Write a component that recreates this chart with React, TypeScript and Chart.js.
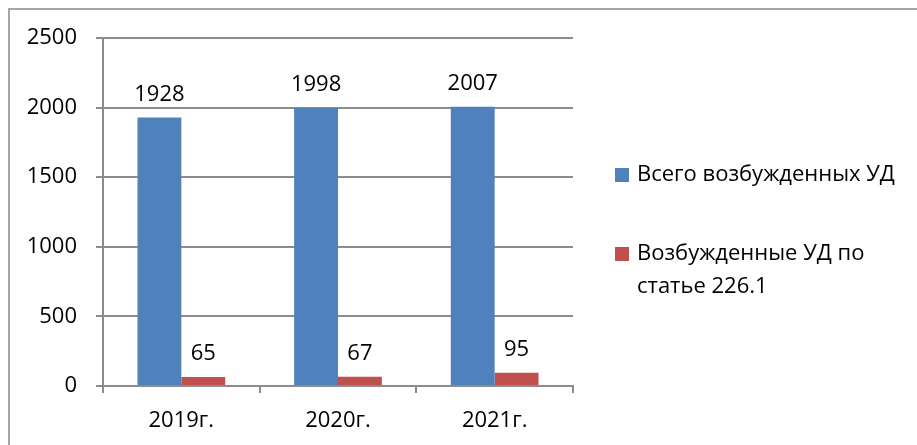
import React, { useEffect, useRef } from "react";
import { Chart, registerables } from "chart.js";

Chart.register(...registerables);

const categories = ["2019г.", "2020г.", "2021г."];
const totalCases = [1928, 1998, 2007];
const article2261Cases = [65, 67, 95];
const seriesNames = ["Всего возбужденных УД", "Возбужденные УД по статье 226.1"];
const legendLines = [["Всего возбужденных УД"], ["Возбужденные УД по", "статье 226.1"]];
const seriesColors = ["#4f81bd", "#c0504d"];
const yMin = 0;
const yMax = 2500;
const yStep = 500;

const FONT = "'Open Sans', 'Liberation Sans', Arial, sans-serif";
const FONT_SIZE = 22;
const GRID_COLOR = "#8c8c8c";

const framePlugin = {
  id: "frame",
  beforeDraw(chart: any) {
    const ctx = chart.ctx;
    ctx.save();
    ctx.fillStyle = "#ffffff";
    ctx.fillRect(0, 0, chart.width, chart.height);
    ctx.strokeStyle = "#a6a6a6";
    ctx.lineWidth = 2;
    ctx.strokeRect(9, 9, chart.width + 100, chart.height + 100);
    ctx.restore();
  },
};

const valueLabelPlugin = {
  id: "valueLabels",
  afterDatasetsDraw(chart: any) {
    const ctx = chart.ctx;
    ctx.save();
    ctx.font = `${FONT_SIZE}px ${FONT}`;
    ctx.fillStyle = "#000000";
    ctx.textAlign = "center";
    ctx.textBaseline = "alphabetic";
    chart.data.datasets.forEach((ds: any, di: number) => {
      const meta = chart.getDatasetMeta(di);
      meta.data.forEach((el: any, i: number) => {
        ctx.fillText(String(ds.data[i]), el.x, el.y - 17);
      });
    });
    ctx.restore();
  },
};

const legendPlugin = {
  id: "customLegend",
  afterDraw(chart: any) {
    const ctx = chart.ctx;
    ctx.save();
    ctx.font = `${FONT_SIZE}px ${FONT}`;
    ctx.textAlign = "left";
    ctx.textBaseline = "middle";
    const boxX = chart.chartArea.right + 42;
    const itemCenters = [175, 254];
    const lineHeight = 33;
    chart.data.datasets.forEach((ds: any, di: number) => {
      const cy = itemCenters[di];
      ctx.fillStyle = ds.backgroundColor;
      ctx.fillRect(boxX, cy - 7, 14, 14);
      ctx.fillStyle = "#000000";
      legendLines[di].forEach((line, li) => {
        ctx.fillText(line, boxX + 22, cy + li * lineHeight);
      });
    });
    ctx.restore();
  },
};

export default function App() {
  const canvasRef = useRef<HTMLCanvasElement | null>(null);

  useEffect(() => {
    if (!canvasRef.current) return;
    const chart = new Chart(canvasRef.current, {
      type: "bar",
      data: {
        labels: categories,
        datasets: [
          {
            label: seriesNames[0],
            data: totalCases,
            backgroundColor: seriesColors[0],
            categoryPercentage: 0.56,
            barPercentage: 1,
          },
          {
            label: seriesNames[1],
            data: article2261Cases,
            backgroundColor: seriesColors[1],
            categoryPercentage: 0.56,
            barPercentage: 1,
          },
        ],
      },
      options: {
        responsive: false,
        animation: false,
        devicePixelRatio: 1,
        layout: { padding: { left: 0, right: 344, top: 38, bottom: 0 } },
        plugins: {
          legend: { display: false },
          tooltip: { enabled: false },
        },
        scales: {
          x: {
            grid: {
              display: true,
              drawOnChartArea: false,
              drawTicks: true,
              tickLength: 7,
              offset: true,
              color: GRID_COLOR,
              lineWidth: 2,
            },
            border: { display: true, color: GRID_COLOR, width: 2 },
            ticks: {
              color: "#000000",
              font: { family: FONT, size: FONT_SIZE },
              padding: 15,
            },
            afterFit(scale: any) {
              scale.height = 59;
            },
          },
          y: {
            min: yMin,
            max: yMax,
            ticks: {
              stepSize: yStep,
              color: "#000000",
              font: { family: FONT, size: FONT_SIZE },
              padding: 19,
              callback: (v: any) => String(v),
            },
            grid: {
              color: GRID_COLOR,
              lineWidth: 2,
              tickLength: 7,
              drawTicks: true,
            },
            border: { display: true, color: GRID_COLOR, width: 2 },
            afterFit(scale: any) {
              scale.width = 103;
            },
          },
        },
      },
      plugins: [framePlugin, valueLabelPlugin, legendPlugin],
    });
    return () => chart.destroy();
  }, []);

  return (
    <div style={{ position: "fixed", left: 0, top: 0, width: 917, height: 445 }}>
      <canvas ref={canvasRef} width={917} height={445} />
    </div>
  );
}
